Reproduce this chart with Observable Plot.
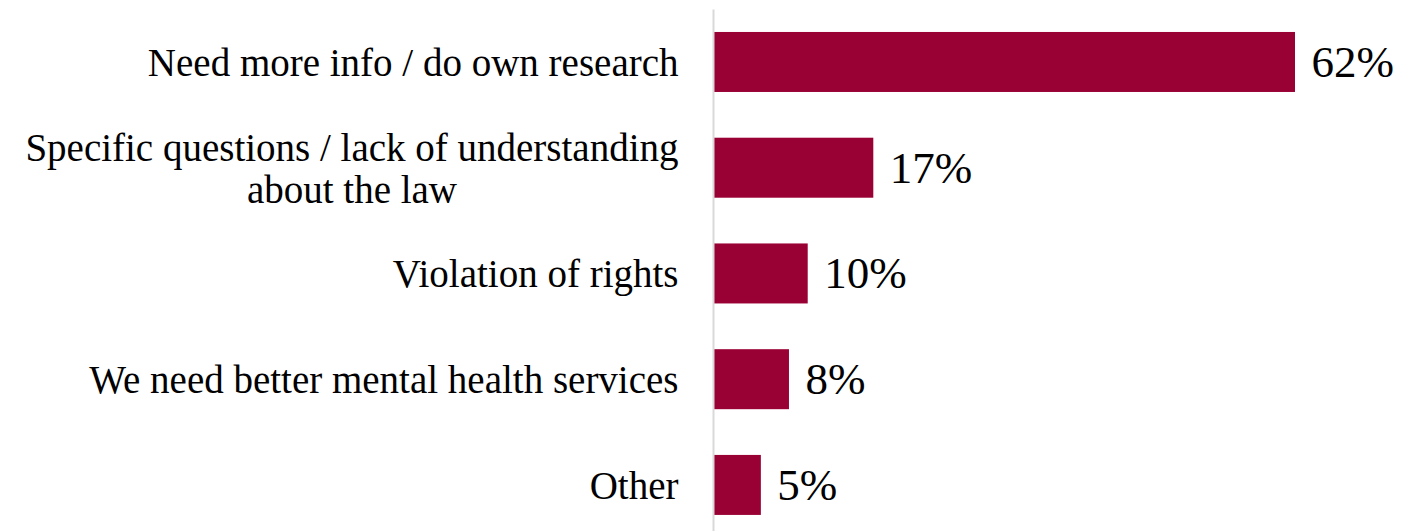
<!DOCTYPE html>
<html>
<head>
<meta charset="utf-8">
<script src="https://cdn.jsdelivr.net/npm/d3@7"></script>
<script src="https://cdn.jsdelivr.net/npm/@observablehq/plot@0.6"></script>
<style>
  html, body { margin: 0; padding: 0; background: #fff; }
  #chart svg { display: block; }
</style>
</head>
<body>
<div id="chart"></div>
<script>
const categories = [
  "Need more info / do own research",
  "Specific questions / lack of understanding\nabout the law",
  "Violation of rights",
  "We need better mental health services",
  "Other"
];
const values = [62, 17, 10, 8, 5];
const valueLabels = ["62%", "17%", "10%", "8%", "5%"];

const data = categories.map((c, i) => ({category: c, value: values[i], label: valueLabels[i]}));

const labelFont = "39px 'Liberation Serif'";
const ctx = document.createElement("canvas").getContext("2d");
ctx.font = labelFont;
const blockWidth = s => d3.max(s.split("\n"), l => ctx.measureText(l).width);

const singleLine = data.filter(d => !d.category.includes("\n"));
const multiLine = data.filter(d => d.category.includes("\n"));

const labelOpts = {fontSize: 39, lineHeight: 1.08, fill: "#000"};

const chart = Plot.plot({
  width: 1402,
  height: 531,
  marginLeft: 714,
  marginRight: 107,
  marginTop: 21.4,
  marginBottom: 5.5,
  style: {fontFamily: "'Liberation Serif', serif", background: "#fff"},
  x: {domain: [0, d3.max(values)], axis: null},
  y: {domain: categories, axis: null, paddingInner: 0.4326, paddingOuter: 0.1, round: false},
  marks: [
    Plot.barX(data, {x: "value", y: "category", fill: "#990033"}),
    Plot.ruleX([0], {stroke: "#d9d9d9", strokeWidth: 2, dx: -1, insetTop: -12, insetBottom: -6}),
    Plot.text(singleLine, {x: 0, y: "category", text: "category", dx: -36, textAnchor: "end", ...labelOpts}),
    ...multiLine.map(d => Plot.text([d], {x: 0, y: "category", text: "category", dx: -36 - blockWidth(d.category) / 2, textAnchor: "middle", ...labelOpts})),
    Plot.text(data, {x: "value", y: "category", text: "label", dx: 16, textAnchor: "start", fontSize: 45, fill: "#000"})
  ]
});
document.getElementById("chart").appendChild(chart);
</script>
</body>
</html>
